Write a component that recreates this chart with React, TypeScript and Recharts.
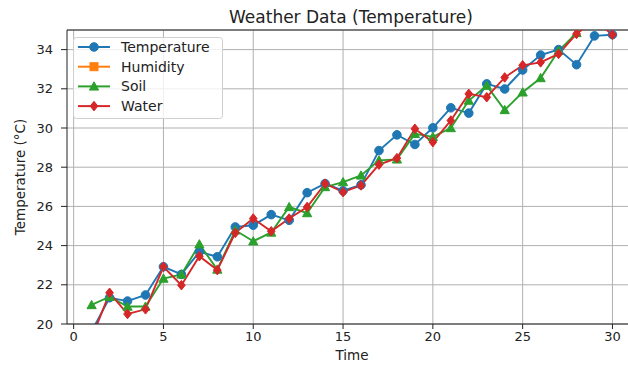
import React from 'react';
import { LineChart, Line, XAxis, YAxis, CartesianGrid, ReferenceLine } from 'recharts';

const times = [1, 2, 3, 4, 5, 6, 7, 8, 9, 10, 11, 12, 13, 14, 15, 16, 17, 18, 19, 20, 21, 22, 23, 24, 25, 26, 27, 28, 29, 30];
const temperature = [19.63, 21.34, 21.17, 21.48, 22.92, 22.53, 23.68, 23.43, 24.95, 25.04, 25.58, 25.29, 26.7, 27.16, 26.8, 27.1, 28.85, 29.65, 29.16, 30.01, 31.03, 30.76, 32.25, 31.99, 32.96, 33.72, 34.0, 33.23, 34.7, 34.76];
const humidity = [62, 64, 61, 66, 65, 68, 63, 67, 70, 66, 69, 71, 68, 72, 70, 73, 71, 74, 72, 75, 73, 76, 74, 77, 75, 78, 76, 79, 77, 80];
const soil = [20.97, 21.39, 20.89, 20.89, 22.32, 22.53, 24.07, 22.78, 24.78, 24.22, 24.67, 25.97, 25.66, 26.99, 27.24, 27.58, 28.35, 28.4, 29.7, 29.55, 30.0, 31.4, 32.16, 30.92, 31.82, 32.55, 33.94, 34.85, 35.6, 36.2];
const water = [19.27, 21.59, 20.51, 20.75, 22.92, 21.98, 23.46, 22.75, 24.65, 25.38, 24.73, 25.38, 25.97, 27.16, 26.73, 27.07, 28.13, 28.46, 29.96, 29.28, 30.38, 31.74, 31.57, 32.58, 33.2, 33.35, 33.78, 34.8, 35.5, 34.76];

const xTicks = [0, 5, 10, 15, 20, 25, 30];
const yTicks = [20, 22, 24, 26, 28, 30, 32, 34];

const seriesInfo = [
  { key: 'temperature', name: 'Temperature', color: '#1f77b4', shape: 'circle' },
  { key: 'humidity', name: 'Humidity', color: '#ff7f0e', shape: 'square' },
  { key: 'soil', name: 'Soil', color: '#2ca02c', shape: 'triangle' },
  { key: 'water', name: 'Water', color: '#d62728', shape: 'diamond' },
];

const data = times.map((t, i) => ({
  time: t,
  temperature: temperature[i],
  humidity: humidity[i],
  soil: soil[i],
  water: water[i],
}));

const FONT = 'DejaVu Sans, sans-serif';

function Marker({ shape, color, cx, cy }: { shape: string; color: string; cx: number; cy: number }) {
  if (shape === 'circle') return <circle cx={cx} cy={cy} r={4.3} fill={color} stroke={color} />;
  if (shape === 'square') return <rect x={cx - 4} y={cy - 4} width={8} height={8} fill={color} stroke={color} />;
  if (shape === 'triangle') {
    const s = 4.6;
    return <path d={`M${cx},${cy - s} L${cx + s},${cy + s * 0.8} L${cx - s},${cy + s * 0.8} Z`} fill={color} stroke={color} />;
  }
  const s = 4.8;
  return <path d={`M${cx},${cy - s} L${cx + s * 0.8},${cy} L${cx},${cy + s} L${cx - s * 0.8},${cy} Z`} fill={color} stroke={color} />;
}

const makeDot = (shape: string, color: string) => (props: any) => {
  const { cx, cy, index } = props;
  if (cx == null || cy == null || isNaN(cx) || isNaN(cy)) return <g key={`d-${shape}-${index}`} />;
  return <g key={`d-${shape}-${index}`}><Marker shape={shape} color={color} cx={cx} cy={cy} /></g>;
};

const LegendBox = ({ x, y }: { x: number; y: number }) => (
  <g transform={`translate(${x},${y})`}>
    <rect x={0.5} y={0.5} width={149} height={81} rx={3} fill="rgba(255,255,255,0.8)" stroke="#d0d0d0" />
    {seriesInfo.map((s, i) => {
      const yy = 10 + i * 19.7;
      return (
        <g key={s.key}>
          <line x1={5} x2={37} y1={yy} y2={yy} stroke={s.color} strokeWidth={2} />
          <Marker shape={s.shape} color={s.color} cx={21} cy={yy} />
          <text x={48} y={yy + 5} fontFamily={FONT} fontSize={14} fill="#222">{s.name}</text>
        </g>
      );
    })}
  </g>
);

export default function App() {
  return (
    <div style={{ position: 'absolute', left: 0, top: 0, width: 628, height: 365, background: '#fff', overflow: 'hidden' }}>
      <LineChart width={640} height={365} data={data} margin={{ top: 30, right: 1.5, left: 7, bottom: 11 }}>
        <CartesianGrid stroke="#b0b0b0" strokeWidth={1} vertical={false} />
        {xTicks.slice(1).map((t) => (
          <ReferenceLine key={`vx-${t}`} x={t} stroke="#b0b0b0" strokeWidth={1} />
        ))}
        <XAxis
          dataKey="time"
          type="number"
          domain={[-0.37, 31.45]}
          allowDataOverflow
          ticks={xTicks}
          height={30}
          tickSize={5}
          tickMargin={3}
          stroke="#222"
          tick={{ fontFamily: FONT, fontSize: 13, fill: '#222' }}
        />
        <YAxis
          type="number"
          domain={[20, 35]}
          allowDataOverflow
          ticks={yTicks}
          width={60}
          tickSize={6}
          tickMargin={8}
          stroke="#222"
          tick={{ fontFamily: FONT, fontSize: 13, fill: '#222' }}
        />
        <ReferenceLine x={0} stroke="#b0b0b0" strokeWidth={1} />
        <ReferenceLine y={35} stroke="#222" strokeWidth={1} />
        {seriesInfo.map((s) => (
          <Line
            key={s.key}
            dataKey={s.key}
            name={s.name}
            stroke={s.color}
            strokeWidth={1.9}
            dot={makeDot(s.shape, s.color)}
            activeDot={false}
            isAnimationActive={false}
          />
        ))}
      </LineChart>
      <svg width={628} height={365} style={{ position: 'absolute', left: 0, top: 0, pointerEvents: 'none' }}>
        <LegendBox x={73} y={37} />
        <text x={351} y={23} textAnchor="middle" fontFamily={FONT} fontSize={17} fill="#222">Weather Data (Temperature)</text>
        <text x={352} y={360} textAnchor="middle" fontFamily={FONT} fontSize={13.5} fill="#222">Time</text>
        <text x={25} y={177} textAnchor="middle" fontFamily={FONT} fontSize={13.5} fill="#222" transform="rotate(-90 25 177)">Temperature (°C)</text>
      </svg>
    </div>
  );
}
